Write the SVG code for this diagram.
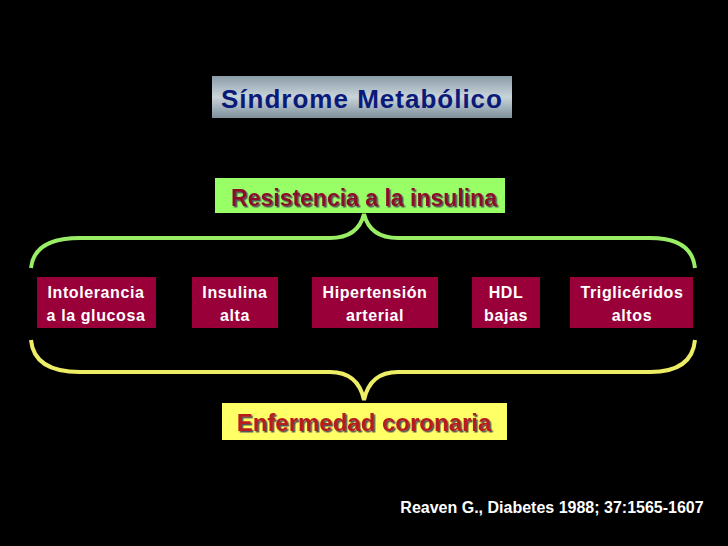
<svg xmlns="http://www.w3.org/2000/svg" width="728" height="546" viewBox="0 0 728 546">
<defs>
<linearGradient id="steel" x1="0" y1="0" x2="0" y2="1">
<stop offset="0" stop-color="#8a9ca8"/><stop offset="0.5" stop-color="#c9d4da"/><stop offset="1" stop-color="#7e909c"/>
</linearGradient>
<filter id="sh"><feDropShadow dx="1.5" dy="1.5" stdDeviation="0.3" flood-color="#555"/></filter>
</defs>
<style>
text{font-family:"Liberation Sans",Arial,sans-serif;font-weight:bold;text-anchor:middle}
.box{fill:#99003a}
.bt{fill:#ffffff;font-size:16px;letter-spacing:0.6px}
.brace{fill:none;stroke-width:4}
</style>
<rect width="728" height="546" fill="#000"/>
<g id="title">
<rect x="212" y="76" width="300" height="42" fill="url(#steel)"/>
<text x="362" y="108" font-size="26" letter-spacing="1" fill="#0a1a78">Síndrome Metabólico</text>
</g>
<g id="resistencia">
<rect x="215" y="178" width="290" height="35" fill="#99ff66"/>
<text x="364" y="206" font-size="23" fill="#8b0f2a" filter="url(#sh)">Resistencia a la insulina</text>
</g>
<g id="connectors">
<path class="brace" stroke="#99ee66" d="M31,268 Q34,238 80,238 L330,238 Q358,238 364,214 Q370,238 398,238 L650,238 Q692,238 695,268"/>
<path class="brace" stroke="#eeee66" d="M31,340 Q34,372 80,372 L330,372 Q358,372 364,400 Q370,372 398,372 L650,372 Q692,372 695,340"/>
</g>
<g id="n1"><rect class="box" x="37" y="277" width="119" height="51"/><text class="bt" x="96" y="298">Intolerancia</text><text class="bt" x="96" y="321">a la glucosa</text></g>
<g id="n2"><rect class="box" x="192" y="277" width="86" height="51"/><text class="bt" x="235" y="298">Insulina</text><text class="bt" x="235" y="321">alta</text></g>
<g id="n3"><rect class="box" x="312" y="277" width="126" height="51"/><text class="bt" x="375" y="298">Hipertensión</text><text class="bt" x="375" y="321">arterial</text></g>
<g id="n4"><rect class="box" x="472" y="277" width="68" height="51"/><text class="bt" x="506" y="298">HDL</text><text class="bt" x="506" y="321">bajas</text></g>
<g id="n5"><rect class="box" x="570" y="277" width="123" height="51"/><text class="bt" x="632" y="298">Triglicéridos</text><text class="bt" x="632" y="321">altos</text></g>
<g id="enfermedad">
<rect x="222" y="403" width="285" height="37" fill="#ffff66"/>
<text x="364" y="431" font-size="24" fill="#b81a1a" filter="url(#sh)">Enfermedad coronaria</text>
</g>
<text x="552" y="513" font-size="16" fill="#ffffff">Reaven G., Diabetes 1988; 37:1565-1607</text>
</svg>
